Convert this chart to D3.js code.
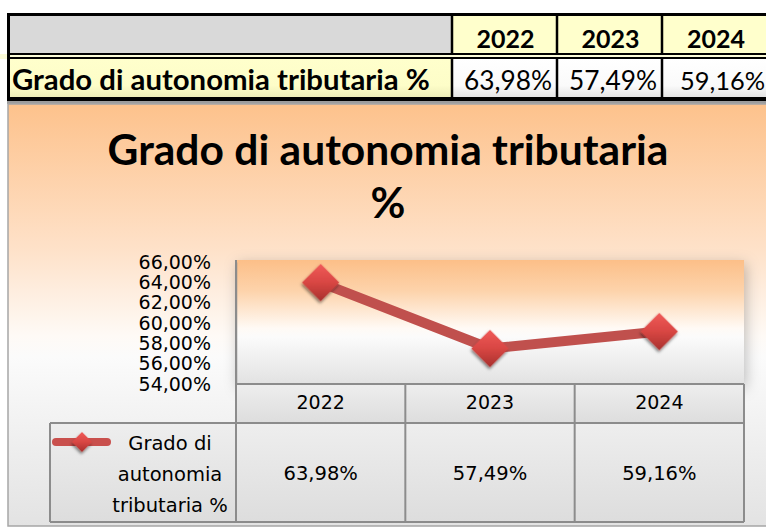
<!DOCTYPE html>
<html><head><meta charset="utf-8">
<script src="https://cdn.jsdelivr.net/npm/d3@7"></script>
<style>html,body{margin:0;padding:0;background:#fff;overflow:hidden}svg{display:block}</style>
</head><body>
<svg id="c" width="766" height="528"></svg>
<script>
const categories = ["2022", "2023", "2024"];
const values = [63.98, 57.49, 59.16];
const valueLabels = ["63,98%", "57,49%", "59,16%"];
const yTicks = [54, 56, 58, 60, 62, 64, 66];
const seriesName = "Grado di autonomia tributaria %";
const titleLines = ["Grado di autonomia tributaria", "%"];

(function () {
const svg = d3.select("#c");
const defs = svg.append("defs");

function lin(id, stops) {
  const g = defs.append("linearGradient").attr("id", id).attr("x1", 0).attr("y1", 0).attr("x2", 0).attr("y2", 1);
  stops.forEach(s => g.append("stop").attr("offset", s[0]).attr("stop-color", s[1]));
}
lin("chartBg", [[0, "#fdc28c"], [0.35, "#fee2ca"], [0.55, "#fefaf6"], [0.6, "#fbfbfb"], [1, "#e3e3e3"]]);
lin("plotBg", [[0, "#fcbf88"], [0.25, "#fdd3ab"], [0.55, "#fffaf5"], [0.62, "#fbfbfb"], [1, "#e2e2e2"]]);
lin("tblBg", [[0, "#eeeeee"], [1, "#dddddd"]]);
lin("yellowCell", [[0, "#ffffcc"], [0.7, "#fdfdc8"], [1, "#ededb8"]]);
lin("whiteCell", [[0, "#ffffff"], [0.7, "#fafafa"], [1, "#e4e4e4"]]);
const dg = defs.append("linearGradient").attr("id", "diam").attr("x1", 0).attr("y1", 0).attr("x2", 1).attr("y2", 1);
dg.append("stop").attr("offset", 0).attr("stop-color", "#f05a58");
dg.append("stop").attr("offset", 0.5).attr("stop-color", "#d84643");
dg.append("stop").attr("offset", 1).attr("stop-color", "#a8302e");
const f1 = defs.append("filter").attr("id", "sh").attr("x", "-20%").attr("y", "-30%").attr("width", "140%").attr("height", "160%");
f1.append("feDropShadow").attr("dx", 2).attr("dy", 4).attr("stdDeviation", 7).attr("flood-color", "#000").attr("flood-opacity", 0.25);
const f2 = defs.append("filter").attr("id", "msh").attr("x", "-50%").attr("y", "-50%").attr("width", "200%").attr("height", "200%");
f2.append("feDropShadow").attr("dx", 1).attr("dy", 2).attr("stdDeviation", 1.5).attr("flood-color", "#000").attr("flood-opacity", 0.5);

function fit(sel, w) {
  const n = sel.node();
  const fs = parseFloat(sel.attr("font-size"));
  const cur = n.getComputedTextLength();
  sel.attr("font-size", fs * w / cur);
}

// ---------- top table ----------
const T = { top: 16, hdrBottom: 54, row2Top: 59, bottom: 97 };
const colX = [10, 452, 557, 662, 790];
const tg = svg.append("g");
tg.append("rect").attr("x", colX[0]).attr("y", T.top).attr("width", colX[1] - colX[0]).attr("height", T.hdrBottom - T.top).attr("fill", "#d9d9d9");
for (let i = 0; i < 3; i++) {
  tg.append("rect").attr("x", colX[i + 1]).attr("y", T.top).attr("width", colX[i + 2] - colX[i + 1]).attr("height", T.hdrBottom - T.top).attr("fill", "#ffffcc");
  tg.append("rect").attr("x", colX[i + 1]).attr("y", T.row2Top).attr("width", colX[i + 2] - colX[i + 1]).attr("height", T.bottom - T.row2Top).attr("fill", "url(#whiteCell)");
}
tg.append("rect").attr("x", colX[0]).attr("y", T.row2Top).attr("width", colX[1] - colX[0]).attr("height", T.bottom - T.row2Top).attr("fill", "url(#yellowCell)");
tg.append("rect").attr("x", 0).attr("y", T.hdrBottom).attr("width", 766).attr("height", T.row2Top - T.hdrBottom).attr("fill", "#fbfbd8");
const blk = (x1, y1, x2, y2, w) => tg.append("line").attr("x1", x1).attr("y1", y1).attr("x2", x2).attr("y2", y2).attr("stroke", "#000").attr("stroke-width", w);
blk(7, 14.5, 770, 14.5, 3);
blk(8.5, 13, 8.5, 100, 3);
blk(7, 54, 770, 54, 2);
blk(7, 58, 770, 58, 2);
blk(7, 99, 770, 99, 4);
tg.append("rect").attr("x", 7).attr("y", 101).attr("width", 766).attr("height", 3).attr("fill", "#9c9c9c");
[1, 2, 3].forEach(i => { blk(colX[i], 14, colX[i], 54, 2.5); blk(colX[i], 58, colX[i], 99, 2.5); });
const hdrCx = [505.5, 610.5, 716];
categories.forEach((c, i) => {
  const t = tg.append("text").attr("x", hdrCx[i]).attr("y", 48).attr("text-anchor", "middle")
    .attr("font-family", "Lato").attr("font-weight", "bold").attr("font-size", 25).attr("fill", "#000").text(c);
  fit(t, 58);
});
const lbl = tg.append("text").attr("x", 12).attr("y", 90).attr("font-family", "Lato").attr("font-weight", "bold").attr("font-size", 25).attr("fill", "#000").text(seriesName);
fit(lbl, 418);
const valRight = [552, 657, 765];
valueLabels.forEach((v, i) => {
  const t = tg.append("text").attr("x", valRight[i]).attr("y", 90).attr("text-anchor", "end")
    .attr("font-family", "Lato").attr("font-size", 25).attr("fill", "#000").text(v);
  fit(t, i === 2 ? 85 : 88);
});

// ---------- chart area ----------
svg.append("rect").attr("x", 8).attr("y", 104).attr("width", 770).attr("height", 422).attr("fill", "url(#chartBg)").attr("stroke", "#a6a6a6").attr("stroke-width", 1.5);

const tl1 = svg.append("text").attr("x", 388).attr("y", 165).attr("text-anchor", "middle").attr("font-family", "Lato").attr("font-weight", "bold").attr("font-size", 36).attr("fill", "#000").text(titleLines[0]);
fit(tl1, 561);
const fsT = tl1.attr("font-size");
svg.append("text").attr("x", 388).attr("y", 218).attr("text-anchor", "middle").attr("font-family", "Lato").attr("font-weight", "bold").attr("font-size", fsT).attr("fill", "#000").text(titleLines[1]);

const P = { l: 236, r: 744, t: 260, b: 384 };
const x = d3.scaleBand().domain(categories).range([P.l, P.r]);
const y = d3.scaleLinear().domain([54, 66]).range([P.b, P.t + 2]);

svg.append("rect").attr("x", P.l).attr("y", P.t).attr("width", P.r - P.l).attr("height", P.b - P.t).attr("fill", "url(#plotBg)").attr("filter", "url(#sh)");

const tblTop = P.b, tblMid = 423, tblBot = 522, legL = 50;
svg.append("rect").attr("x", P.l).attr("y", tblTop).attr("width", P.r - P.l).attr("height", tblMid - tblTop).attr("fill", "url(#tblBg)");
svg.append("rect").attr("x", legL).attr("y", tblMid).attr("width", P.r - legL).attr("height", tblBot - tblMid).attr("fill", "url(#tblBg)");

const yAxis = d3.axisLeft(y).tickValues(yTicks).tickSize(0).tickPadding(25).tickFormat(d => d3.format(".2f")(d).replace(".", ",") + "%");
const ya = svg.append("g").attr("transform", `translate(${P.l},0)`).call(yAxis);
ya.select(".domain").attr("stroke", "#8c8c8c").attr("stroke-width", 1.5);
ya.selectAll("text").attr("font-family", "DejaVu Sans").attr("font-size", 19).attr("fill", "#000");

const xAxis = d3.axisBottom(x).tickSize(0).tickPadding(12);
const xa = svg.append("g").attr("transform", `translate(0,${P.b})`).call(xAxis);
xa.select(".domain").remove();
xa.selectAll("text").attr("font-family", "DejaVu Sans").attr("font-size", 19).attr("fill", "#000");

const gl = svg.append("g").attr("stroke", "#8c8c8c").attr("stroke-width", 2);
gl.append("line").attr("x1", P.l).attr("x2", P.r).attr("y1", tblTop).attr("y2", tblTop);
gl.append("line").attr("x1", legL).attr("x2", P.r).attr("y1", tblMid).attr("y2", tblMid);
gl.append("line").attr("x1", legL).attr("x2", P.r).attr("y1", tblBot).attr("y2", tblBot);
gl.append("line").attr("x1", legL).attr("x2", legL).attr("y1", tblMid).attr("y2", tblBot);
categories.forEach(c => gl.append("line").attr("x1", x(c)).attr("x2", x(c)).attr("y1", c === categories[0] ? P.t : tblTop).attr("y2", tblBot));
gl.append("line").attr("x1", P.r).attr("x2", P.r).attr("y1", tblTop).attr("y2", tblBot);

svg.append("g").selectAll("text").data(valueLabels).join("text")
  .attr("x", (d, i) => x(categories[i]) + x.bandwidth() / 2).attr("y", 480).attr("text-anchor", "middle")
  .attr("font-family", "DejaVu Sans").attr("font-size", 19.5).attr("fill", "#000").text(d => d);

const legText = ["Grado di", "autonomia", "tributaria %"];
svg.append("g").selectAll("text").data(legText).join("text")
  .attr("x", 170).attr("y", (d, i) => 450 + i * 31).attr("text-anchor", "middle")
  .attr("font-family", "DejaVu Sans").attr("font-size", 19.5).attr("fill", "#000").text(d => d);
svg.append("line").attr("x1", 56).attr("x2", 107).attr("y1", 442).attr("y2", 442).attr("stroke", "#c9504d").attr("stroke-width", 8).attr("stroke-linecap", "round");
svg.append("path").attr("d", d3.symbol(d3.symbolSquare, 200)()).attr("transform", "translate(82,442) rotate(45)").attr("fill", "url(#diam)").attr("filter", "url(#msh)");

const cx = c => x(c) + x.bandwidth() / 2;
const line = d3.line().x((d, i) => cx(categories[i])).y(d => y(d));
svg.append("path").datum(values).attr("d", line).attr("fill", "none").attr("stroke", "#c0504d").attr("stroke-width", 10).attr("stroke-linejoin", "round");
svg.append("g").selectAll("path").data(values).join("path")
  .attr("d", d3.symbol(d3.symbolSquare, 700)())
  .attr("transform", (d, i) => `translate(${cx(categories[i])},${y(d)}) rotate(45)`)
  .attr("fill", "url(#diam)").attr("filter", "url(#msh)");
})();
</script>
</body></html>
